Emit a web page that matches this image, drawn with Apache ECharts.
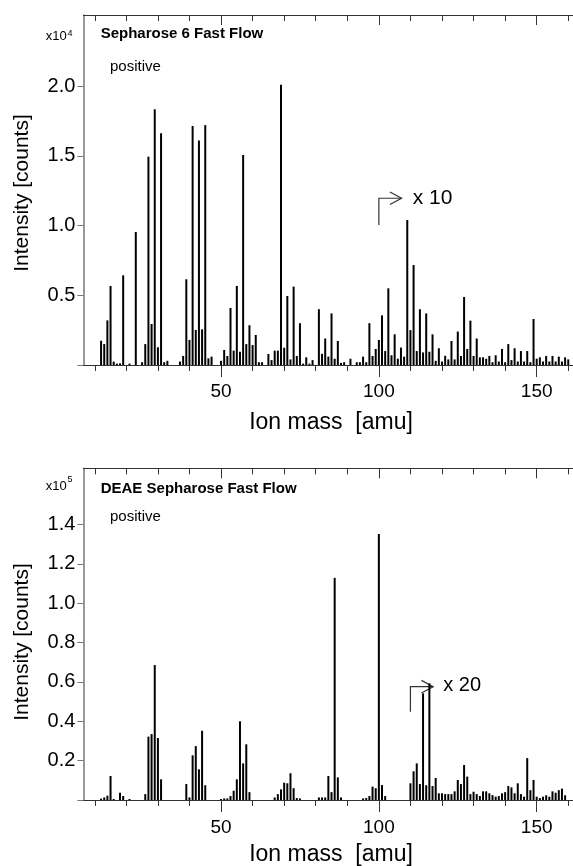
<!DOCTYPE html>
<html><head><meta charset="utf-8">
<script src="https://cdn.jsdelivr.net/npm/echarts@6/dist/echarts.min.js"></script>
<style>html,body{margin:0;padding:0;background:#fff}#c{width:573px;height:866px}</style>
</head><body><div id="c"></div>
<script>
// ---- Data (top: x10^4 counts, bottom: x10^5 counts) ----
const topMass = [12,13,14,15,16,17,18,19,21,23,25,26,27,28,29,30,31,32,33,37,38,39,40,41,42,43,44,45,46,47,50,51,52,53,54,55,56,57,58,59,60,61,62,63,65,66,67,68,69,70,71,72,73,74,75,76,77,78,79,81,82,83,84,85,86,87,88,89,91,93,94,95,96,97,98,99,100,101,102,103,104,105,106,107,108,109,110,111,112,113,114,115,116,117,118,119,120,121,122,123,124,125,126,127,128,129,130,131,132,133,134,135,136,137,138,139,140,141,142,143,144,145,146,147,148,149,150,151,152,153,154,155,156,157,158,159,160];
const topIntensity = [0.174,0.15,0.32,0.567,0.024,0.01,0.012,0.643,0.01,0.954,0.02,0.15,1.494,0.294,1.834,0.127,1.662,0.02,0.03,0.025,0.065,0.615,0.18,1.714,0.251,1.61,0.256,1.72,0.048,0.06,0.03,0.108,0.065,0.409,0.103,0.567,0.095,1.506,0.15,0.285,0.143,0.215,0.02,0.02,0.079,0.035,0.103,0.103,2.01,0.124,0.495,0.04,0.562,0.065,0.3,0.01,0.055,0.01,0.035,0.4,0.08,0.19,0.06,0.37,0.045,0.172,0.015,0.02,0.045,0.02,0.02,0.06,0.02,0.3,0.065,0.115,0.18,0.356,0.1,0.55,0.07,0.22,0.045,0.125,0.06,1.04,0.25,0.717,0.1,0.4,0.09,0.37,0.095,0.22,0.03,0.12,0.025,0.066,0.04,0.172,0.04,0.24,0.065,0.488,0.115,0.318,0.065,0.19,0.055,0.055,0.045,0.065,0.02,0.07,0.025,0.115,0.02,0.15,0.035,0.12,0.025,0.1,0.025,0.1,0.02,0.33,0.045,0.055,0.025,0.065,0.025,0.065,0.025,0.06,0.025,0.055,0.04];
const botMass = [12,13,14,15,16,18,19,21,26,27,28,29,30,31,39,40,41,42,43,44,45,50,51,52,53,54,55,56,57,58,59,67,68,69,70,71,72,73,74,75,81,82,83,84,85,86,87,88,95,96,97,98,99,100,101,102,110,111,112,113,114,115,116,117,118,119,120,121,122,123,124,125,126,127,128,129,130,131,132,133,134,135,136,137,138,139,140,141,142,143,144,145,146,147,148,149,150,151,152,153,154,155,156,157,158,159];
const botIntensity = [0.007,0.013,0.022,0.122,0.005,0.037,0.02,0.005,0.03,0.322,0.335,0.686,0.315,0.105,0.081,0.013,0.227,0.274,0.156,0.352,0.075,0.005,0.008,0.008,0.02,0.047,0.105,0.4,0.186,0.283,0.04,0.013,0.03,0.054,0.088,0.085,0.136,0.06,0.01,0.008,0.013,0.013,0.013,0.122,0.04,1.129,0.115,0.013,0.008,0.01,0.02,0.068,0.06,1.352,0.076,0.02,0.085,0.146,0.186,0.081,0.542,0.075,0.593,0.071,0.112,0.034,0.034,0.03,0.03,0.03,0.044,0.102,0.081,0.178,0.119,0.03,0.042,0.03,0.02,0.044,0.044,0.034,0.025,0.017,0.02,0.034,0.04,0.071,0.064,0.034,0.085,0.03,0.017,0.213,0.05,0.102,0.017,0.01,0.017,0.024,0.017,0.044,0.037,0.05,0.058,0.024];
const minorTicks = [10,20,30,40,60,70,80,90,110,120,130,140,160];
const majorTicks = [50,100,150];
const topYLabels = [0.5,1.0,1.5,2.0];
const topYTicks = [0,0.5,1.0,1.5,2.0];
const botYLabels = [0.2,0.4,0.6,0.8,1.0,1.2,1.4];
const botYTicks = [0,0.2,0.4,0.6,0.8,1.0,1.2,1.4];

const FF = '"Liberation Sans", Arial, Helvetica, sans-serif';
const XMIN = 6.4, XMAX = 161.5;
const AX = '#333';

function xa(grid, pos, ticks, len, inside, labelMargin) {
  return {
    type: 'value', gridIndex: grid, position: pos, min: XMIN, max: XMAX,
    axisLine: {show: true, onZero: false, lineStyle: {color: AX, width: 1}},
    axisTick: {show: true, customValues: ticks, length: len, inside: inside, lineStyle: {color: AX, width: 1}},
    axisLabel: labelMargin != null ? {show: true, customValues: majorTicks, fontSize: 19, color: '#000', margin: labelMargin, fontFamily: FF} : {show: false},
    splitLine: {show: false}
  };
}
function ya(grid, max, ticks, labels) {
  return {
    type: 'value', gridIndex: grid, min: 0, max: max, position: 'left',
    axisLine: {show: true, onZero: false, lineStyle: {color: '#777', width: 1.5}},
    axisTick: {show: true, customValues: ticks, length: 6, lineStyle: {color: '#777', width: 1}},
    axisLabel: {show: true, customValues: labels, formatter: v => v.toFixed(1), fontSize: 20, margin: 8, color: '#000', fontFamily: FF},
    splitLine: {show: false}
  };
}

const chart = echarts.init(document.getElementById('c'), null, {renderer: 'canvas'});
chart.setOption({
  animation: false,
  backgroundColor: '#fff',
  grid: [
    {left: 83.4, right: 0, top: 15, height: 350},
    {left: 83.4, right: 0, top: 468.3, height: 331.7}
  ],
  xAxis: [
    xa(0, 'bottom', minorTicks, 6, false, null),
    xa(0, 'bottom', majorTicks, 12, false, 17),
    xa(0, 'top', minorTicks, 6, true, null),
    xa(0, 'top', majorTicks, 10, true, null),
    xa(1, 'bottom', minorTicks, 6, false, null),
    xa(1, 'bottom', majorTicks, 12, false, 18),
    xa(1, 'top', minorTicks, 6, true, null),
    xa(1, 'top', majorTicks, 10, true, null)
  ],
  yAxis: [ya(0, 2.51, topYTicks, topYLabels), ya(1, 1.686, botYTicks, botYLabels)],
  series: [
    {type: 'bar', xAxisIndex: 0, yAxisIndex: 0, barWidth: 2, itemStyle: {color: '#000'},
     data: topMass.map((m, i) => [m, topIntensity[i]])},
    {type: 'bar', xAxisIndex: 4, yAxisIndex: 1, barWidth: 2, itemStyle: {color: '#000'},
     data: botMass.map((m, i) => [m, botIntensity[i]])}
  ]
});

function px(g, x, y) {
  return chart.convertToPixel(g === 0 ? {xAxisIndex: 0, yAxisIndex: 0} : {xAxisIndex: 4, yAxisIndex: 1}, [x, y]);
}
function arrow(g, xStart, yLow, yHigh, xEnd) {
  const a0 = px(g, xStart, yLow), a1 = px(g, xStart, yHigh), a2 = px(g, xEnd, yHigh);
  const ls = {stroke: '#333', lineWidth: 1.2, fill: null};
  return [
    {type: 'polyline', shape: {points: [a0, a1, a2]}, style: ls},
    {type: 'polyline', shape: {points: [[a2[0] - 11.7, a2[1] - 6.3], a2, [a2[0] - 11.7, a2[1] + 6.3]]}, style: ls}
  ];
}
function txt(x, y, s, size, bold, align) {
  return {type: 'text', x: x, y: y, style: {text: s, fontSize: size, fontWeight: bold ? 'bold' : 'normal', fontFamily: FF, fill: '#000', textAlign: align || 'left', textVerticalAlign: 'middle'}};
}
const t10 = px(0, 110.7, 1.194), t20 = px(1, 120.4, 0.58);
const g = [].concat(
  arrow(0, 100, 1.004, 1.196, 107.2),
  arrow(1, 110, 0.449, 0.576, 117.2),
  [
    txt(t10[0], t10[1], 'x 10', 21),
    txt(t20[0], t20[1], 'x 20', 20),
    txt(100.7, 33.4, 'Sepharose 6 Fast Flow', 15, true),
    txt(110, 66.7, 'positive', 15),
    txt(100.7, 488.4, 'DEAE Sepharose Fast Flow', 15, true),
    txt(110, 516.7, 'positive', 15),
    txt(66.7, 36.7, 'x10', 13, false, 'right'),
    txt(67.5, 33.3, '4', 9),
    txt(66.7, 486.4, 'x10', 13, false, 'right'),
    txt(67.5, 479.8, '5', 9),
    {type: 'text', x: 22, y: 193, rotation: Math.PI / 2, style: {text: 'Intensity [counts]', fontSize: 21, fontFamily: FF, fill: '#000', textAlign: 'center', textVerticalAlign: 'middle'}},
    {type: 'text', x: 22, y: 642, rotation: Math.PI / 2, style: {text: 'Intensity [counts]', fontSize: 21, fontFamily: FF, fill: '#000', textAlign: 'center', textVerticalAlign: 'middle'}},
    txt(331, 423, 'Ion mass  [amu]', 23, false, 'center'),
    txt(331, 855, 'Ion mass  [amu]', 23, false, 'center')
  ]
);
chart.setOption({graphic: g});
</script>
</body></html>
